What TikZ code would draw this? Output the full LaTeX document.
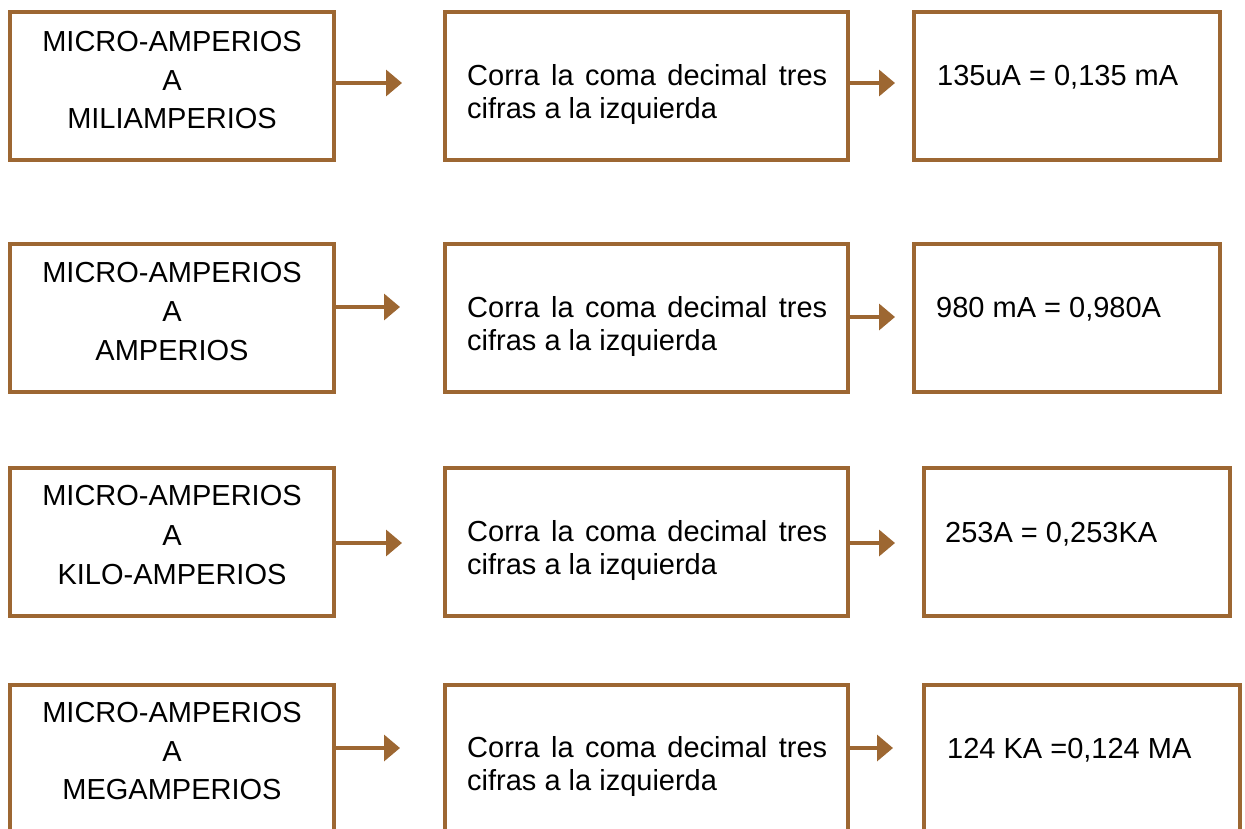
\documentclass[tikz,border=0pt]{standalone}
\usepackage{fontspec}
\setmainfont{Liberation Sans}
\usetikzlibrary{arrows.meta}
\definecolor{brn}{RGB}{157,103,50}
\tikzset{
  box/.style={draw=brn, line width=3.5pt, rectangle, inner sep=0pt, fill=white},
  arr/.style={draw=brn, line width=3.5pt, -{Triangle[length=16pt,width=26pt]}},
  txt/.style={inner sep=0pt, font=\fontsize{29}{34}\selectfont, anchor=base},
  txtw/.style={txt, anchor=base west}
}
\begin{document}
\begin{tikzpicture}[x=1pt,y=-1pt]
\useasboundingbox (0,0) rectangle (1245,828);
\clip (0,0) rectangle (1245,828);
% row 1
\node[box, minimum width=324pt, minimum height=148pt] (l1) at (172,86) {};
\node[box, minimum width=403pt, minimum height=148pt] (m1) at (646.5,86) {};
\node[box, minimum width=306pt, minimum height=148pt] (r1) at (1067,86) {};
% row 2
\node[box, minimum width=324pt, minimum height=148pt] (l2) at (172,318) {};
\node[box, minimum width=403pt, minimum height=148pt] (m2) at (646.5,318) {};
\node[box, minimum width=306pt, minimum height=148pt] (r2) at (1067,318) {};
% row 3
\node[box, minimum width=324pt, minimum height=148pt] (l3) at (172,542) {};
\node[box, minimum width=403pt, minimum height=148pt] (m3) at (646.5,542) {};
\node[box, minimum width=306pt, minimum height=148pt] (r3) at (1077,542) {};
% row 4
\node[box, minimum width=324pt, minimum height=200pt] (l4) at (172,785) {};
\node[box, minimum width=403pt, minimum height=200pt] (m4) at (646.5,785) {};
\node[box, minimum width=316pt, minimum height=200pt] (r4) at (1082,785) {};

% arrows
\coordinate (t1) at (402,83);  \coordinate (u1) at (895,83);
\coordinate (t2) at (400,307); \coordinate (u2) at (895,317);
\coordinate (t3) at (402,543); \coordinate (u3) at (895,543);
\coordinate (t4) at (400,748); \coordinate (u4) at (893,748);
\foreach \i in {1,2,3,4}{
  \draw[arr] (l\i.east |- t\i) -- (t\i);
  \draw[arr] (m\i.east |- u\i) -- (u\i);
}

% left texts
\node[txt] (a1) at (172,51) {MICRO-AMPERIOS};
\node[txt] (b1) at (172,90) {A};
\node[txt] (c1) at (172,128) {MILIAMPERIOS};
\node[txt] (a2) at (172,282) {MICRO-AMPERIOS};
\node[txt] (b2) at (172,321) {A};
\node[txt] (c2) at (172,360) {AMPERIOS};
\node[txt] (a3) at (172,505) {MICRO-AMPERIOS};
\node[txt] (b3) at (172,545) {A};
\node[txt] (c3) at (172,584) {KILO-AMPERIOS};
\node[txt] (a4) at (172,722) {MICRO-AMPERIOS};
\node[txt] (b4) at (172,761) {A};
\node[txt] (c4) at (172,799) {MEGAMPERIOS};

% middle texts
\foreach \i/\y in {1/85,2/317,3/541,4/757}{
  \node[txtw] (p\i) at (467,\y) {\makebox[360pt][s]{Corra la coma decimal tres}};
  \node[txtw] (q\i) at (467,\y+33.5) {cifras a la izquierda};
}

% right texts
\node[txtw] (v1) at (937,85) {135uA = 0,135 mA};
\node[txtw] (v2) at (936,317) {980 mA = 0,980A};
\node[txtw] (v3) at (945,542) {253A = 0,253KA};
\node[txtw] (v4) at (947,758) {124 KA =0,124 MA};
\end{tikzpicture}
\end{document}
